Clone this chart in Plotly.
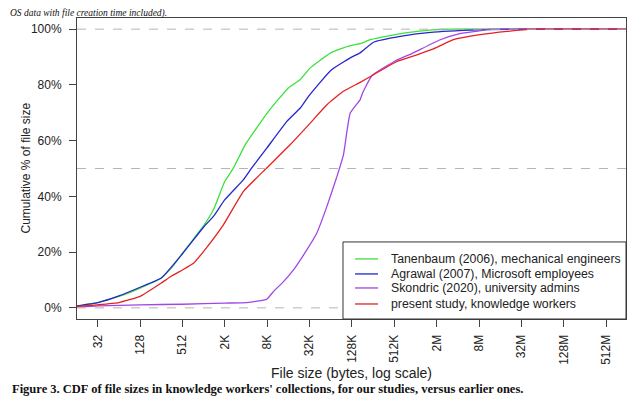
import plotly.graph_objects as go

# ---- data (x in bytes, y in cumulative % of file size) ----
tanenbaum_x = [16, 32, 64, 128, 256, 362, 512, 724, 1024, 1409, 2048, 2721, 3983,
               8540, 16384, 24150, 33460, 65536, 123900, 171800, 237800, 456500,
               1100000, 3178000, 1073741824]
tanenbaum_y = [0.7, 1.9, 4.1, 7.1, 10.7, 14.5, 19.6, 24.5, 29.5, 35.2, 45.4, 50.2, 58.5,
               70.5, 78.9, 81.9, 86.1, 91.5, 94.1, 94.8, 96.2, 97.7,
               99.2, 100, 100]

agrawal_x = [16, 32, 64, 128, 256, 512, 1024, 1409, 2048, 3769, 4938, 8080, 15603,
             24150, 31641, 65536, 123900, 171800, 265700, 636600, 1889000, 11060000,
             50000000, 1073741824]
agrawal_y = [0.7, 1.9, 4.3, 7.4, 10.7, 19.4, 29.0, 32.8, 38.8, 46.0, 50.2, 57.3, 66.9,
             71.7, 75.9, 85.2, 89.7, 91.5, 95.3, 97.4, 98.9, 99.8,
             100, 100]

skondric_x = [16, 32, 128, 512, 2048, 4211, 8080, 10086, 13967, 19350, 29936, 41460,
              57810, 80130, 99300, 123900, 171800, 181600, 251400, 524288, 978000,
              2360000, 4494000, 9630000, 13000000, 1073741824]
skondric_y = [0.25, 0.7, 1.1, 1.3, 1.7, 1.9, 3.1, 5.9, 9.4, 13.6, 20.8, 26.8,
              36.4, 47.1, 54.9, 69.9, 74.7, 76.5, 83.3, 88.4, 91.5,
              96.2, 98.4, 99.6, 100, 100]

present_x = [16, 32, 64, 128, 256, 362, 512, 734, 1017, 1951, 3769, 8080, 17318,
             33460, 57810, 99300, 171800, 251400, 569800, 1100000, 1889000, 3650000,
             8740000, 21000000, 50000000, 1073741824]
present_y = [0.5, 1.1, 1.9, 4.1, 8.9, 11.5, 13.6, 16.0, 20.2, 29.8, 41.8, 50.2, 58.5,
             66.3, 72.9, 77.7, 80.9, 83.3, 88.4, 90.8, 92.9, 96.2,
             98.0, 99.2, 100, 100]

series_names = ["Tanenbaum (2006), mechanical engineers",
                "Agrawal (2007), Microsoft employees",
                "Skondric (2020), university admins",
                "present study, knowledge workers"]
series_colors = ["#3ae23a", "#2626cc", "#a246e6", "#e32222"]

x_tick_vals = [32, 128, 512, 2048, 8192, 32768, 131072, 524288, 2097152, 8388608,
               33554432, 134217728, 536870912]
x_tick_text = ["32", "128", "512", "2K", "8K", "32K", "128K", "512K", "2M", "8M",
               "32M", "128M", "512M"]
y_tick_vals = [0, 20, 40, 60, 80, 100]
y_tick_text = ["0%", "20%", "40%", "60%", "80%", "100%"]
ref_lines = [0, 50, 100]

FONT = "Liberation Sans, Arial, sans-serif"
SERIF = "Liberation Serif, Times New Roman, serif"

fig = go.Figure()
for xs, ys, name, col in zip([tanenbaum_x, agrawal_x, skondric_x, present_x],
                             [tanenbaum_y, agrawal_y, skondric_y, present_y],
                             series_names, series_colors):
    fig.add_trace(go.Scatter(x=xs, y=ys, mode="lines", name=name,
                             line=dict(color=col, width=1.3, shape="spline",
                                       smoothing=0.4)))

for yv in ref_lines:
    fig.add_shape(type="line", xref="paper", yref="y", x0=0, x1=1, y0=yv, y1=yv,
                  line=dict(color="#b5b5b5", width=1, dash="dash"), layer="above")

# ---- hand-drawn legend box (bottom-right, like R's legend) ----
leg_x0, leg_y1 = 0.4845, 0.256
row_y = [0.1996, 0.1497, 0.1031, 0.0499]
fig.add_shape(type="rect", xref="paper", yref="paper", x0=leg_x0, x1=1, y0=0, y1=leg_y1,
              line=dict(color="#333", width=1), fillcolor="white", layer="above")
for ry, name, col in zip(row_y, series_names, series_colors):
    fig.add_shape(type="line", xref="paper", yref="paper", x0=0.5064, x1=0.5483,
                  y0=ry, y1=ry, line=dict(color=col, width=1.3), layer="above")
    fig.add_annotation(text=name, xref="paper", yref="paper", x=0.5683, y=ry,
                       xanchor="left", yanchor="middle", showarrow=False,
                       font=dict(family=FONT, size=12.3, color="#222"))

fig.update_layout(
    width=640, height=396,
    margin=dict(l=69, r=22, t=10, b=85),
    paper_bgcolor="white", plot_bgcolor="white",
    font=dict(family=FONT, size=12, color="#222"),
    showlegend=False,
    xaxis=dict(type="log", range=[1.2101, 9.0128], tickmode="array",
               tickvals=x_tick_vals, ticktext=x_tick_text, tickangle=-90,
               ticks="outside", ticklen=7, tickcolor="#444", ticklabelstandoff=3,
               showline=True, linecolor="#444", mirror=True, showgrid=False,
               zeroline=False,
               title=dict(text="File size (bytes, log scale)", standoff=4)),
    yaxis=dict(range=[-4, 104], tickmode="array", tickvals=y_tick_vals,
               ticktext=y_tick_text, ticks="outside", ticklen=7, tickcolor="#444",
               ticklabelstandoff=5,
               showline=True, linecolor="#444", mirror=True, showgrid=False,
               zeroline=False),
)

fig.add_annotation(text="Cumulative % of file size", xref="paper", yref="paper",
                   x=-0.0947, y=0.5, xanchor="center", yanchor="middle",
                   textangle=-90, showarrow=False,
                   font=dict(family=FONT, size=12, color="#222"))

fig.add_annotation(text="<i>OS data with file creation time included).</i>",
                   xref="paper", yref="paper", x=-68 / 549, y=1.0,
                   xanchor="left", yanchor="bottom", yshift=-2.5, borderpad=0,
                   showarrow=False,
                   font=dict(family=SERIF, size=9.5, color="#111"))
fig.add_annotation(text="<b>Figure 3. CDF of file sizes in knowledge workers' collections, for our studies, versus earlier ones.</b>",
                   xref="paper", yref="paper", x=-66 / 549, y=0,
                   xanchor="left", yanchor="top", yshift=-62, borderpad=0,
                   showarrow=False,
                   font=dict(family=SERIF, size=12.5, color="#111"))

fig.write_html("out.html")
